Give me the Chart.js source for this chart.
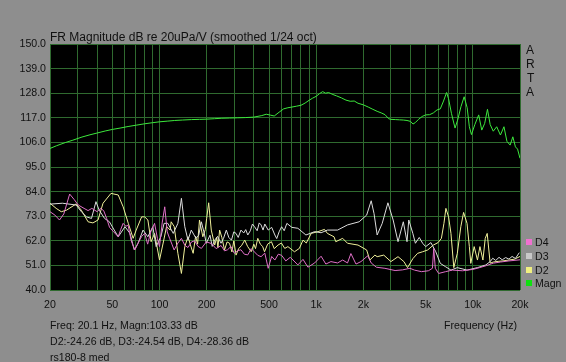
<!DOCTYPE html>
<html><head><meta charset="utf-8">
<script src="https://cdn.jsdelivr.net/npm/chart.js@4/dist/chart.umd.min.js"></script>
<style>
html,body{margin:0;padding:0;background:#8e8e8e;}
#wrap{position:relative;width:566px;height:362px;background:#8e8e8e;font-family:"Liberation Sans",Arial,sans-serif;color:#111;overflow:hidden;}
canvas{position:absolute;left:0;top:0;}
.t{position:absolute;font-size:12px;line-height:12px;white-space:nowrap;}
.s{font-size:10.6px;}
.sq{position:absolute;width:6px;height:6px;}
</style></head><body>
<div id="wrap">
<canvas id="c" width="566" height="362"></canvas>
<div class="t" style="left:50px;top:31px">FR Magnitude dB re 20uPa/V (smoothed 1/24 oct)</div>
<div class="t" style="left:526px;top:44px">A</div>
<div class="t" style="left:526px;top:58px">R</div>
<div class="t" style="left:527px;top:72px">T</div>
<div class="t" style="left:526px;top:86px">A</div>
<div class="sq" style="left:526px;top:239px;background:#f070d0"></div><div class="t s" style="left:535px;top:236px">D4</div>
<div class="sq" style="left:526px;top:253px;background:#c8c8c8"></div><div class="t s" style="left:535px;top:250px">D3</div>
<div class="sq" style="left:526px;top:267px;background:#f0f080"></div><div class="t s" style="left:535px;top:264px">D2</div>
<div class="sq" style="left:526px;top:280px;background:#10e010"></div><div class="t s" style="left:535px;top:277px">Magn</div>
<div class="t s" style="left:50px;top:319px">Freq: 20.1 Hz, Magn:103.33 dB</div>
<div class="t s" style="left:50px;top:335px">D2:-24.26 dB, D3:-24.54 dB, D4:-28.36 dB</div>
<div class="t s" style="left:50px;top:351px">rs180-8 med</div>
<div class="t s" style="left:444px;top:319px">Frequency (Hz)</div>
</div>
<script>
// ---- axis ticks ----
const gridFreqs = [20,30,40,50,60,70,80,90,100,200,300,400,500,600,700,800,900,1000,2000,3000,4000,5000,6000,7000,8000,9000,10000,20000];
const labelFreqs = [20,50,100,200,500,1000,2000,5000,10000,20000];
const labelTexts = ["20","50","100","200","500","1k","2k","5k","10k","20k"];

// ---- Magn ----
const magnFreq = [20,22,25,28,32,36,40,45,50,56,63,71,80,90,100,112,125,140,160,180,200,224,250,280,315,355,400,450,480,510,540,580,620,660,700,750,800,850,900,950,1000,1050,1100,1150,1200,1280,1350,1450,1550,1650,1750,1850,2000,2150,2300,2450,2600,2750,2900,3000,3200,3400,3600,3800,4000,4150,4300,4500,4750,5000,5300,5600,5900,6200,6500,6800,7000,7300,7700,8000,8400,8800,9200,9500,9800,10300,10900,11400,11900,12400,12900,13500,14200,15000,15800,16500,17300,18000,18700,19300,20000];
const magnDb = [103.3,104.5,105.9,107.0,108.4,109.4,110.2,111.1,111.8,112.4,113.1,113.7,114.3,114.8,115.2,115.5,115.8,116.0,116.2,116.3,116.4,116.6,116.8,116.9,117.0,117.1,117.3,118.0,118.6,118.2,117.8,119.5,121.0,121.5,121.8,122.2,122.6,123.6,124.8,125.8,126.6,127.8,128.7,128.0,128.3,127.4,126.8,125.9,124.9,124.4,124.5,123.5,122.8,121.8,120.8,119.9,119.2,118.4,116.6,116.3,116.2,116.1,116.0,115.8,115.4,114.2,114.9,116.3,117.6,118.3,118.4,119.2,120.5,121.0,124.5,128.3,125.5,119.0,112.4,116.0,122.0,126.4,121.5,113.0,109.5,114.0,118.3,111.5,114.5,120.8,114.0,111.0,113.0,109.3,113.0,106.5,104.8,108.5,104.0,103.0,98.9];

// ---- D2 ----
const d2Freq = [20,21.9,23.6,25.5,29.4,31.7,35,37.6,40.5,43.6,49,54.5,58.6,63.2,67.9,71,76.9,80.4,84.3,88.4,93,100,105.5,111,117,118.7,124,131,138,145,152,157,164,170,175,180,189,196,200,206,214,225,232,236,242,250,260,270,280,290,298,308,320,335,350,365,385,400,410,424,440,455,468,490,518,540,571,600,630,660,727,781,824,865,930,1028,1130,1180,1300,1334,1476,1585,1850,2100,2200,2370,2450,2700,3000,3330,3630,3830,4140,4440,4780,5150,5600,6000,6300,6540,6730,7000,7250,7560,7960,8380,8730,9180,9500,9700,10200,10700,11100,11600,12000,12350,12900,13500,14500,15500,17000,18500,20000];
const d2Db = [78.8,76.5,75.0,75.7,78.5,75.7,70.5,70.0,71.3,78.8,83.2,82.5,77.2,69.8,63.1,66.8,72.7,72.7,71.3,61.6,65.3,53.4,61.0,68.4,66.8,70.5,68.4,56.4,47.4,59.4,63.8,60.5,56.4,64.0,60.5,71.3,63.8,67.0,72.0,79.0,66.8,60.1,63.5,59.0,66.8,63.5,57.9,61.5,60.9,57.0,62.0,55.6,58.5,60.0,62.3,59.5,57.1,60.5,58.5,63.1,60.5,59.5,57.1,60.5,61.6,58.5,60.1,61.0,58.6,59.4,57.1,58.6,62.3,61.0,65.3,66.1,67.1,65.3,63.8,61.6,63.1,60.9,60.1,57.9,53.4,55.6,54.9,55.6,52.7,54.9,52.7,50.0,54.0,56.4,57.1,57.9,60.1,61.2,63.1,69.8,76.5,72.7,65.3,50.0,56.4,68.3,74.7,69.8,59.4,51.9,59.4,53.4,59.4,53.4,63.1,65.3,52.0,52.5,52.8,53.0,53.4,53.8,55.0];

// ---- D3 ----
const d3Freq = [20,24,29.4,31.7,34.2,36.8,39.3,41.2,44.6,47.9,51.4,54.5,60.2,64.8,69,73,78.5,84.3,90.6,95.2,102,107,113,122.4,131,138,145,152,159.5,165,171,178,185,192,199,210,217,225,235,247,256,267,277,288,298,308,318,331,345,355,366,380,392,404,420,433,445,458,470,494,520,545,560,580,602,625,650,700,764,860,978,1075,1180,1370,1585,1880,2100,2245,2340,2450,2640,2870,3100,3330,3600,3800,3900,4140,4300,4550,4780,5000,5400,5800,6200,6700,7250,7960,9180,10700,12100,12900,13400,14000,14700,15400,16200,17000,17800,18700,19800];
const d3Db = [78.4,78.8,78.0,75.0,72.7,72.0,79.5,75.7,72.0,70.5,66.8,63.8,68.3,65.3,57.9,60.9,66.8,63.8,68.3,59.4,63.8,69.8,69.8,65.3,69.8,81.0,68.3,62.3,66.8,65.0,63.1,64.5,70.5,66.0,60.9,64.5,59.5,62.3,64.0,60.9,63.0,66.8,63.5,62.3,66.0,65.3,63.5,66.8,65.5,67.0,64.6,66.5,69.5,68.3,66.5,70.0,69.1,66.8,69.5,66.8,68.0,64.6,63.0,66.0,68.3,66.5,69.8,68.0,67.6,64.6,66.1,65.6,66.8,66.8,69.1,70.5,73.5,79.9,74.2,64.6,69.8,79.0,71.3,61.6,70.5,61.6,71.3,65.3,60.9,63.5,60.9,59.4,61.2,57.1,51.9,50.4,48.9,50.0,48.9,50.0,51.2,52.7,54.2,53.2,54.6,53.5,54.5,53.8,55.0,54.1,56.7];

// ---- D4 ----
const d4Freq = [20,21.5,23,24.5,26.7,28.5,30.3,33,35,37,40,42,44,46,48,51,54.5,56.5,58.6,61,63,66,69.6,73,77,80.4,84,88,93,97,100,104,108,112,116,120,124,131,138,145,152,160,167.5,176,185,199,214,230,247,260,272,286,300,315,331,348,366,385,404,424,445,470,494,520,545,573,602,640,683,712,764,824,886,978,1075,1153,1242,1370,1476,1585,1666,1795,1932,2134,2245,2420,2745,3190,3560,3970,4240,4700,5200,5520,5630,5760,6050,6700,7400,8600,10000,11040,12200,13500,15000,17000,20000];
const d4Db = [75.0,73.5,71.3,74.0,82.9,80.5,78.0,76.5,75.5,76.5,75.0,76.5,75.5,72.0,68.0,66.0,63.8,67.0,69.8,68.5,69.0,62.0,57.9,61.0,64.0,65.3,60.5,66.0,69.8,63.0,59.4,70.0,77.2,66.0,63.1,60.5,57.9,61.0,63.1,60.0,59.0,61.5,62.0,59.5,58.6,61.5,60.8,58.5,59.9,57.5,58.0,59.5,56.4,57.5,58.0,56.0,55.7,58.5,57.0,55.5,54.9,56.5,49.7,55.0,53.4,56.0,55.5,53.0,54.6,53.4,51.2,53.7,50.2,52.1,55.1,51.6,52.7,52.1,53.4,52.1,56.3,51.6,52.7,55.3,52.1,50.2,49.7,48.7,49.0,49.7,48.9,48.2,48.6,49.7,58.6,49.7,47.4,48.2,48.9,48.6,49.2,50.0,50.9,52.0,52.5,53.0,53.5];

const pts = (f, v) => f.map((x, i) => ({x: x, y: v[i]}));
const lineDs = (label, f, v, color) => ({label, data: pts(f, v), borderColor: color, borderWidth: 1, pointRadius: 0, tension: 0, fill: false});

const bgPlugin = {
  id: 'plotbg',
  beforeDraw(chart) {
    const {ctx, chartArea: a} = chart;
    ctx.save();
    ctx.fillStyle = '#000';
    ctx.fillRect(a.left, a.top, a.right - a.left, a.bottom - a.top);
    ctx.restore();
  }
};

const gridColor = '#2f6a2f';
const tickFont = {family: 'Liberation Sans', size: 10.6};
new Chart(document.getElementById('c'), {
  type: 'line',
  data: {
    datasets: [
      lineDs('D4', d4Freq, d4Db, '#e070c8'),
      lineDs('D3', d3Freq, d3Db, '#dcdcdc'),
      lineDs('D2', d2Freq, d2Db, '#f0f09a'),
      lineDs('Magn', magnFreq, magnDb, '#3ce83c')
    ]
  },
  options: {
    responsive: false,
    animation: false,
    devicePixelRatio: 1,
    layout: {padding: {top: 44, right: 46, left: 0, bottom: 0}},
    plugins: {legend: {display: false}, tooltip: {enabled: false}},
    scales: {
      x: {
        type: 'logarithmic', min: 20, max: 20000,
        afterBuildTicks: s => { s.ticks = gridFreqs.map(v => ({value: v})); },
        afterFit: s => { s.height = 72; },
        grid: {color: gridColor, drawTicks: false, lineWidth: 1},
        border: {display: false},
        ticks: {
          autoSkip: false, maxRotation: 0, padding: 9, color: '#111', font: tickFont,
          callback: v => { const i = labelFreqs.indexOf(v); return i >= 0 ? labelTexts[i] : ''; }
        }
      },
      y: {
        min: 40, max: 150,
        afterFit: s => { s.width = 50; },
        grid: {color: gridColor, drawTicks: false, lineWidth: 1},
        border: {display: false},
        ticks: {
          stepSize: 11, padding: 4, color: '#111', font: tickFont,
          callback: v => Number(v).toFixed(1)
        }
      }
    }
  },
  plugins: [bgPlugin]
});
</script>
</body></html>
